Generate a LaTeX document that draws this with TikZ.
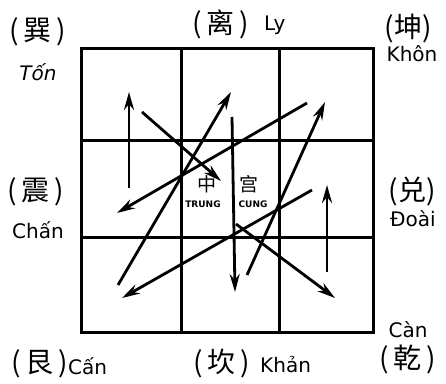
\documentclass[tikz,border=0pt]{standalone}
\usepackage{fontspec}
\setmainfont{DejaVu Sans}
\newfontfamily\cjk{Noto Sans CJK SC}
\usetikzlibrary{arrows.meta}

\begin{document}
\begin{tikzpicture}[x=1pt,y=-1pt,
palace/.style={line width=3pt},
move/.style={line width=2.8pt,-{Stealth[length=18pt,width=10pt]}},
gua/.style={font=\cjk\fontsize{28}{28}\selectfont,inner sep=0pt},
viet/.style={font=\fontsize{20}{20}\selectfont,inner sep=0pt},
cung/.style={font=\cjk\fontsize{19}{19}\selectfont,inner sep=0pt},
small/.style={font=\bfseries\fontsize{9}{9}\selectfont,inner sep=0pt}
]
\useasboundingbox (0,0) rectangle (446,383);
% the nine palaces
\draw[palace] (81,48) rectangle (373,332);
\draw[palace] (181,48) -- (181,332) (279,48) -- (279,332);
\draw[palace] (81,140) -- (373,140) (81,237) -- (373,237);

% trigram names
\node[gua] (g4) at (38,32) {(\,巽\,)};
\node[viet,font=\itshape\fontsize{20}{20}\selectfont] (n4) at (38,72) {Tốn};
\node[gua] (g9) at (221,24) {(\,离\,)};
\node[viet,anchor=west] (n9) at (264,25) {Ly};
\node[gua] (g2) at (408,28) {(坤)};
\node[viet] (n2) at (412,54) {Khôn};
\node[gua] (g3) at (36,192) {(\,震\,)};
\node[viet] (n3) at (38,230) {Chấn};
\node[gua] (g7) at (412,191) {(兑)};
\node[viet] (n7) at (413,219) {Đoài};
\node[viet] (n6) at (408,330) {Càn};
\node[gua] (g6) at (408,359) {(\,乾\,)};
\node[gua] (g8) at (40,364) {(\,艮\,)};
\node[viet,anchor=west] (n8) at (68,366) {Cấn};
\node[gua] (g1) at (222,363) {(\,坎\,)};
\node[viet,anchor=west] (n1) at (260,365) {Khản};

% centre palace
\node[cung] (z1) at (207,184) {中};
\node[cung] (z2) at (249,184) {宫};
\node[small] (t1) at (203,204) {TRUNG};
\node[small] (t2) at (253,204) {CUNG};

% flying path
\coordinate (a4) at (129,188); \coordinate (b4) at (129,92);
\coordinate (a5) at (142,112); \coordinate (b5) at (221,181);
\coordinate (a6) at (236,224); \coordinate (b6) at (335,298);
\coordinate (a7) at (327,272); \coordinate (b7) at (327,185);
\coordinate (a8) at (312,190); \coordinate (b8) at (122,298);
\coordinate (a9) at (118,285); \coordinate (b9) at (231,92);
\coordinate (a1) at (232,117); \coordinate (b1) at (235,292);
\coordinate (a2) at (247,275); \coordinate (b2) at (325,102);
\coordinate (a3) at (307,103); \coordinate (b3) at (117,213);
\draw[move] (a1) -- (b1);
\draw[move] (a2) -- (b2);
\draw[move] (a3) -- (b3);
\draw[move] (a4) -- (b4);
\draw[move] (a5) -- (b5);
\draw[move] (a6) -- (b6);
\draw[move] (a7) -- (b7);
\draw[move] (a8) -- (b8);
\draw[move] (a9) -- (b9);
\end{tikzpicture}
\end{document}
